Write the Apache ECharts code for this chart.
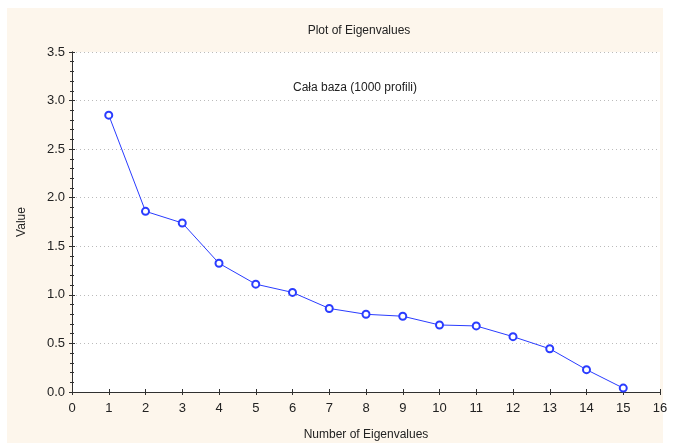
<!DOCTYPE html>
<html>
<head>
<meta charset="utf-8">
<script src="https://cdn.jsdelivr.net/npm/echarts@6/dist/echarts.min.js"></script>
<style>
  html, body { margin: 0; padding: 0; background: #ffffff; }
  #chart { width: 678px; height: 443px; }
</style>
</head>
<body>
<div id="chart"></div>
<script>
// eigenvalue numbers and values
const eigenNumbers = [1, 2, 3, 4, 5, 6, 7, 8, 9, 10, 11, 12, 13, 14, 15];
const eigenValues = [2.85, 1.86, 1.74, 1.325, 1.11, 1.025, 0.86, 0.80, 0.78, 0.69, 0.68, 0.57, 0.445, 0.23, 0.04];

const chartTitle = 'Plot of Eigenvalues';
const subTitle = 'Cała baza (1000 profili)';
const xName = 'Number of Eigenvalues';
const yName = 'Value';

var chart = echarts.init(document.getElementById('chart'));

var font = 'Liberation Sans, Arial, sans-serif';
var axisColor = '#303030';

var option = {
    backgroundColor: '#ffffff',
    animation: false,
    graphic: [
        {
            type: 'rect',
            z: -10,
            shape: { x: 7, y: 8, width: 656, height: 435 },
            style: { fill: '#fdf6ec' }
        },
        {
            type: 'rect',
            z: -9,
            shape: { x: 72, y: 52, width: 588, height: 340 },
            style: { fill: '#ffffff' }
        }
    ],
    title: [
        {
            text: chartTitle,
            left: 354,
            top: 20,
            textAlign: 'center',
            textStyle: { fontFamily: font, fontSize: 12, fontWeight: 'normal', color: '#222' }
        },
        {
            text: subTitle,
            left: 350,
            top: 77,
            textAlign: 'center',
            textStyle: { fontFamily: font, fontSize: 12, fontWeight: 'normal', color: '#222' }
        }
    ],
    grid: { left: 72, right: 18, top: 52, bottom: 51, outerBoundsMode: 'none', containLabel: false },
    xAxis: [
        {
            type: 'value',
            min: 0,
            max: 16,
            interval: 1,
            name: xName,
            nameLocation: 'middle',
            nameGap: 37,
            nameTextStyle: { fontFamily: font, fontSize: 12, color: '#222' },
            axisLine: { lineStyle: { color: axisColor, width: 1 } },
            axisTick: { inside: true, length: 3, lineStyle: { color: axisColor } },
            axisLabel: { fontFamily: font, fontSize: 13, color: '#222', margin: 10 },
            splitLine: { show: false }
        },
        {
            type: 'value',
            position: 'top',
            min: 0,
            max: 16,
            interval: 1,
            axisLine: { lineStyle: { color: axisColor, width: 1 } },
            axisTick: { inside: true, length: 3, lineStyle: { color: axisColor } },
            axisLabel: { show: false },
            splitLine: { show: false }
        }
    ],
    yAxis: [
        {
            type: 'value',
            min: 0,
            max: 3.5,
            interval: 0.5,
            name: yName,
            nameLocation: 'middle',
            nameGap: 44,
            nameTextStyle: { fontFamily: font, fontSize: 12, color: '#222' },
            axisLine: { show: true, lineStyle: { color: axisColor, width: 1 } },
            axisTick: { show: true, inside: true, length: 3, lineStyle: { color: axisColor } },
            minorTick: { show: true, splitNumber: 5, length: 2, lineStyle: { color: axisColor } },
            axisLabel: {
                fontFamily: font, fontSize: 13, color: '#222', margin: 7,
                formatter: function (v) { return v.toFixed(1); }
            },
            splitLine: { show: true, lineStyle: { color: '#bbbbbb', type: [1, 3], width: 1 } }
        },
        {
            type: 'value',
            position: 'right',
            min: 0,
            max: 3.5,
            interval: 0.5,
            axisLine: { show: true, lineStyle: { color: axisColor, width: 1 } },
            axisTick: { show: true, inside: true, length: 3, lineStyle: { color: axisColor } },
            minorTick: { show: true, splitNumber: 5, length: 2, lineStyle: { color: axisColor } },
            axisLabel: { show: false },
            splitLine: { show: false }
        }
    ],
    series: [
        {
            type: 'line',
            data: eigenNumbers.map(function (n, i) { return [n, eigenValues[i]]; }),
            symbol: 'emptyCircle',
            symbolSize: 7,
            lineStyle: { color: '#2a3cff', width: 1 },
            itemStyle: { color: '#2a3cff', borderWidth: 1 }
        }
    ]
};
chart.setOption(option);
</script>
</body>
</html>
